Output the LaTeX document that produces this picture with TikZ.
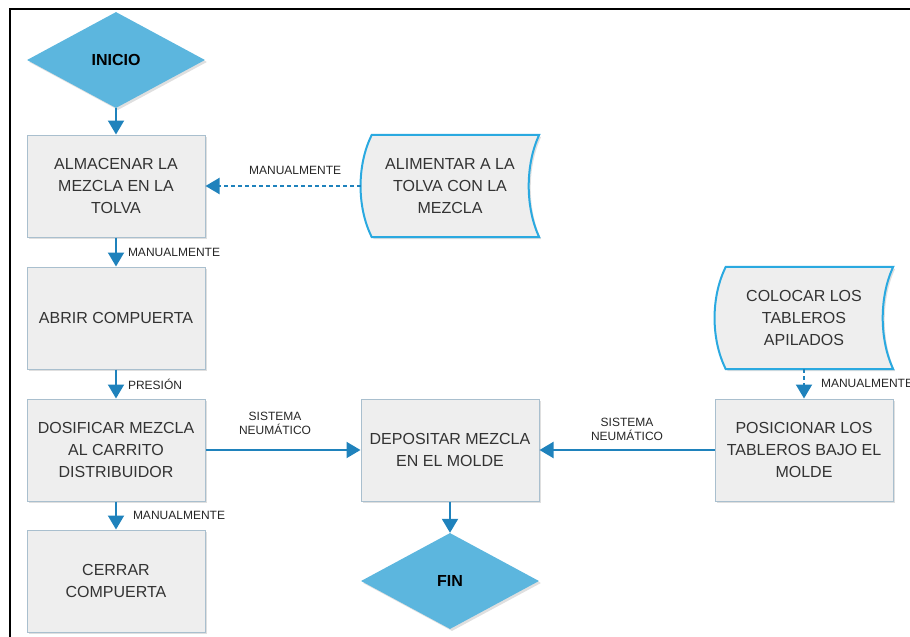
\documentclass[tikz,border=0pt]{standalone}
\usepackage{fontspec}
\setmainfont{Liberation Sans}
\usetikzlibrary{shapes.geometric,arrows.meta,shadows,backgrounds}
\definecolor{flujo}{HTML}{1F82BC}
\definecolor{borde}{HTML}{A9BFCE}
\definecolor{relleno}{HTML}{EEEEEE}
\definecolor{rombo}{HTML}{5CB6DE}
\definecolor{cinta}{HTML}{2AA9E0}
\newcommand{\cintabox}[1]{\draw[cintalinea] ([xshift=11pt]#1.north west) -- (#1.north east)
  .. controls +(-14pt,-30pt) and +(-14pt,30pt) .. (#1.south east) -- ([xshift=11pt]#1.south west)
  .. controls +(-15pt,30pt) and +(-15pt,-30pt) .. ([xshift=11pt]#1.north west) -- cycle;}
\tikzset{
  sombra/.style={drop shadow={opacity=0.25,shadow xshift=2pt,shadow yshift=-2pt}},
  proceso/.style={rectangle,draw=borde,fill=relleno,line width=1pt,minimum width=178pt,minimum height=102pt,
    align=center,font=\fontsize{16}{22}\selectfont,text=black!80,sombra},
  datos/.style={rectangle,minimum width=178pt,minimum height=102pt,align=center,
    font=\fontsize{16}{22}\selectfont,text=black!80},
  cintalinea/.style={draw=cinta,line width=2pt,fill=relleno,sombra},
  terminal/.style={diamond,fill=rombo,minimum width=178pt,minimum height=96pt,inner sep=0pt,
    font=\bfseries\fontsize{16}{18}\selectfont,sombra},
  flecha/.style={draw=flujo,line width=2pt,-{Triangle[width=16pt,length=14pt]}},
  manual/.style={flecha,dash pattern=on 4pt off 3pt},
  etiqueta/.style={font=\fontsize{12}{14}\selectfont,text=black!85,align=center,inner sep=2pt}
}
\begin{document}
\begin{tikzpicture}[x=1pt,y=-1pt]
  \useasboundingbox (0,0) rectangle (910,637);
  \draw[line width=2pt] (10,637) -- (10,9) -- (910,9);
  % columna izquierda
  \node[terminal] (inicio) at (116,60) {INICIO};
  \node[proceso] (almacenar) at (116,186) {ALMACENAR LA\\MEZCLA EN LA\\TOLVA};
  \node[proceso] (abrir) at (116,318) {ABRIR COMPUERTA};
  \node[proceso] (dosificar) at (116,450) {DOSIFICAR MEZCLA\\AL CARRITO\\DISTRIBUIDOR};
  \node[proceso] (cerrar) at (116,581) {CERRAR\\COMPUERTA};
  % columna central y derecha
  \node[datos] (alimentar) at (450,186) {ALIMENTAR A LA\\TOLVA CON LA\\MEZCLA};
  \node[proceso] (depositar) at (450,450) {DEPOSITAR MEZCLA\\EN EL MOLDE};
  \node[terminal] (fin) at (450,581) {FIN};
  \node[datos] (colocar) at (804,318) {COLOCAR LOS\\TABLEROS\\APILADOS};
  \node[proceso] (posicionar) at (804,450) {POSICIONAR LOS\\TABLEROS BAJO EL\\MOLDE};
  \begin{scope}[on background layer] \cintabox{alimentar} \cintabox{colocar} \end{scope}
  % conectores
  \draw[flecha] (inicio) -- (almacenar);
  \draw[flecha] (almacenar) -- node[etiqueta,right=9pt] (m1) {MANUALMENTE} (abrir);
  \draw[flecha] (abrir) -- node[etiqueta,right=9pt] (p1) {PRESIÓN} (dosificar);
  \draw[flecha] (dosificar) -- node[etiqueta,right=14pt] (m2) {MANUALMENTE} (cerrar);
  \draw[manual] (alimentar.west) -- node[etiqueta,above=8pt,xshift=12pt] (m3) {MANUALMENTE} (almacenar);
  \draw[flecha] (dosificar) -- node[etiqueta,above=12pt,xshift=-8pt] (s1) {SISTEMA\\NEUMÁTICO} (depositar);
  \draw[flecha] (posicionar) -- node[etiqueta,above=6pt] (s2) {SISTEMA\\NEUMÁTICO} (depositar);
  \draw[manual] (colocar) -- node[etiqueta,right=14pt] (m4) {MANUALMENTE} (posicionar);
  \draw[flecha] (depositar) -- (fin);
\end{tikzpicture}
\end{document}
